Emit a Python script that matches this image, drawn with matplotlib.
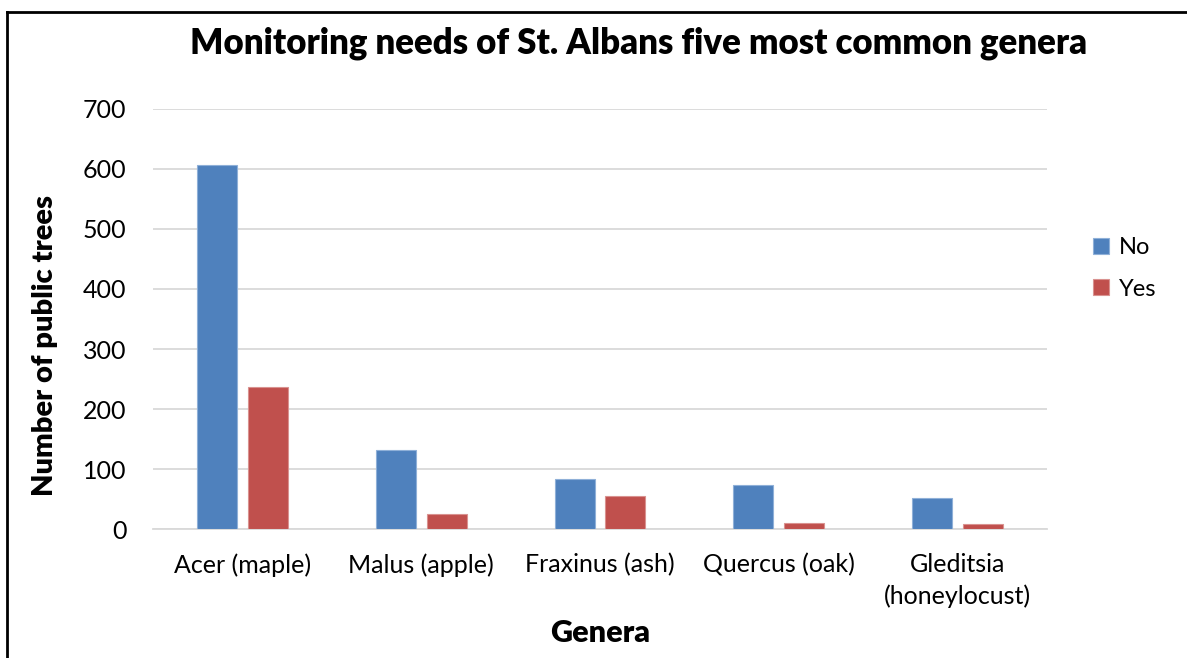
import numpy as np
import matplotlib.pyplot as plt
from matplotlib.lines import Line2D

# data
genera = ['Acer (maple)', 'Malus (apple)', 'Fraxinus (ash)', 'Quercus (oak)',
          'Gleditsia\n(honeylocust)']
no_vals = [607, 132, 83, 74, 52]
yes_vals = [237, 25, 55, 11, 9]
yticks = [0, 100, 200, 300, 400, 500, 600, 700]

plt.rcParams['font.family'] = ['Lato', 'DejaVu Sans']

fig = plt.figure(figsize=(11.87, 6.58), dpi=100)
ax = fig.add_axes([0.1289, 0.1956, 0.7532, 0.6392])

x = np.arange(len(genera))
w = 0.224
off = 0.142
ax.bar(x - off, no_vals, w, color='#4F81BD', edgecolor='#8FB0D8', linewidth=0.8,
       label='No', zorder=3)
ax.bar(x + off, yes_vals, w, color='#C0504D', edgecolor='#D99290', linewidth=0.8,
       label='Yes', zorder=3)

ax.set_xlim(-0.5, len(genera) - 0.5)
ax.set_ylim(0, 700)
ax.set_yticks(yticks)
ax.set_xticks(x)
ax.set_xticklabels(genera, fontsize=18, linespacing=1.45)
ax.tick_params(axis='y', labelsize=18, length=0, pad=19)
ax.tick_params(axis='x', length=0, pad=17)
ax.grid(axis='y', color='#D9D9D9', linewidth=1.3, zorder=0)
for s in ['top', 'right', 'left']:
    ax.spines[s].set_visible(False)
ax.spines['bottom'].set_color('#D9D9D9')
ax.spines['bottom'].set_linewidth(1.3)

ax.set_ylabel('Number of public trees', fontsize=21, fontweight='heavy')
ax.yaxis.set_label_coords(-0.106, 0.437)
ax.set_xlabel('Genera', fontsize=22, fontweight='heavy', labelpad=8)
fig.text(0.538, 0.934, 'Monitoring needs of St. Albans five most common genera',
         ha='center', va='center', fontsize=25, fontweight='heavy')

leg = ax.legend(loc='center left', bbox_to_anchor=(1.028, 0.62), frameon=False,
                fontsize=17, handlelength=0.65, handleheight=0.65, labelspacing=0.85,
                handletextpad=0.45)

# outer frame (only top and left edges visible in the crop)
fig.add_artist(Line2D([0.0055, 1.0], [1 - 12 / 658, 1 - 12 / 658],
                      transform=fig.transFigure, color='black', linewidth=2))
fig.add_artist(Line2D([0.0055, 0.0055], [0.0, 1 - 12 / 658],
                      transform=fig.transFigure, color='black', linewidth=2))

plt.savefig('out.png', dpi=100)
